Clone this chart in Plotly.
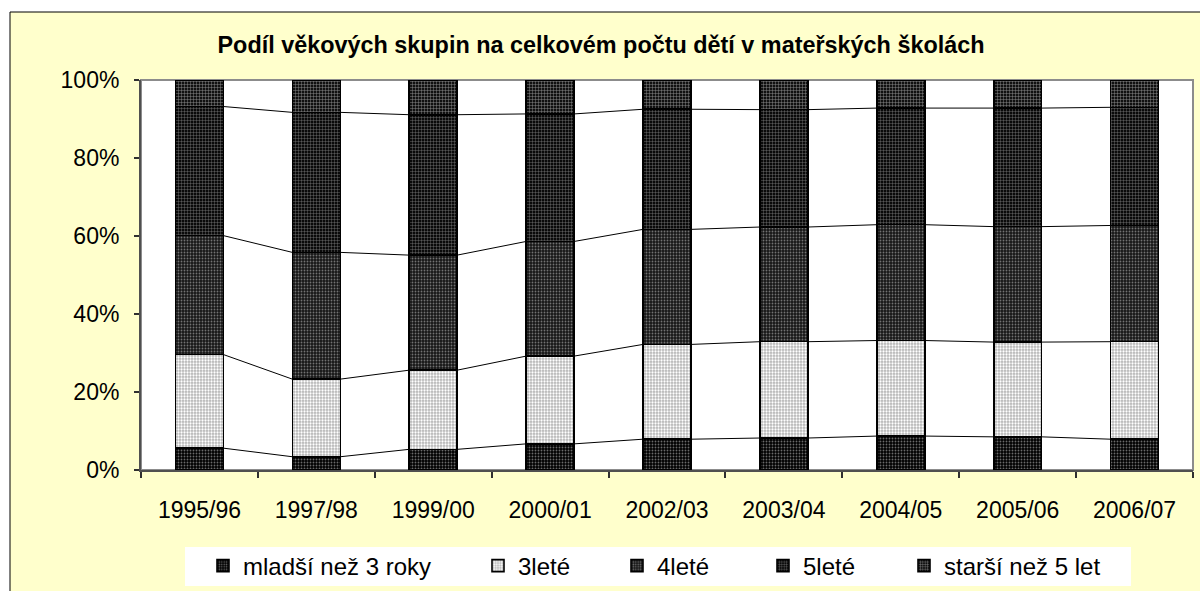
import plotly.graph_objects as go

# ---------------- data ----------------
categories = ["1995/96", "1997/98", "1999/00", "2000/01", "2002/03",
              "2003/04", "2004/05", "2005/06", "2006/07"]
series_names = ["mladší než 3 roky", "3leté", "4leté", "5leté", "starší než 5 let"]
mladsi_3 = [5.6, 3.4, 5.3, 6.7, 7.9, 8.2, 8.7, 8.5, 7.9]
tri_lete = [24.0, 19.9, 20.3, 22.5, 24.3, 24.7, 24.5, 24.3, 25.0]
ctyr_lete = [30.5, 32.5, 29.5, 29.4, 29.5, 29.4, 29.7, 29.6, 29.8]
pet_lete = [33.1, 35.9, 36.0, 32.7, 30.8, 30.1, 29.9, 30.4, 30.3]
starsi_5 = [6.8, 8.3, 8.9, 8.7, 7.5, 7.6, 7.2, 7.2, 7.0]
y_ticks = [0, 20, 40, 60, 80, 100]
y_tick_labels = ["0%", "20%", "40%", "60%", "80%", "100%"]
title_text = "Podíl věkových skupin na celkovém počtu dětí v mateřských školách"

series_values = [mladsi_3, tri_lete, ctyr_lete, pet_lete, starsi_5]

# ---------------- style ----------------
FONT = "Liberation Sans, Arial, sans-serif"
W, H = 1200, 591
L, R, T, B = 141, 7, 80, 121
PW, PH = W - L - R, H - T - B
BAR_W = 0.41

patterns = [
    dict(shape=".", bgcolor="#000000", fgcolor="#6a6a6a", size=3, solidity=0.3),
    dict(shape=".", bgcolor="#b4b4b4", fgcolor="#ffffff", size=3, solidity=0.45),
    dict(shape=".", bgcolor="#161616", fgcolor="#727272", size=3, solidity=0.3),
    dict(shape="+", bgcolor="#0a0a0a", fgcolor="#9a9a9a", size=3, solidity=0.2),
    dict(shape="+", bgcolor="#101010", fgcolor="#a0a0a0", size=3, solidity=0.25),
]

def px_x(px):
    return (px - L) / PW

def px_y(py):
    return (H - B - py) / PH

fig = go.Figure()
x_idx = list(range(len(categories)))

for k, (name, vals) in enumerate(zip(series_names, series_values)):
    fig.add_trace(go.Bar(
        x=x_idx, y=vals, name=name, width=BAR_W,
        marker=dict(color=patterns[k]["bgcolor"],
                    line=dict(color="#000000", width=1.6),
                    pattern=dict(fillmode="replace", **patterns[k])),
        legend="legend" if k == 0 else f"legend{k+1}",
        hoverinfo="skip",
    ))

# series lines joining the cumulative boundaries of neighbouring bars
cum = [0.0] * len(categories)
for k, vals in enumerate(series_values[:-1]):
    cum = [c + v for c, v in zip(cum, vals)]
    lx, ly = [], []
    for i in range(len(categories) - 1):
        lx += [x_idx[i] + BAR_W / 2, x_idx[i + 1] - BAR_W / 2, None]
        ly += [cum[i], cum[i + 1], None]
    fig.add_trace(go.Scatter(x=lx, y=ly, mode="lines",
                             line=dict(color="#000000", width=1),
                             showlegend=False, hoverinfo="skip"))

# backgrounds: yellow chart area with black border, white plot area, white legend box
shapes = [
    dict(type="rect", xref="paper", yref="paper", layer="below",
         x0=px_x(10), x1=px_x(1215), y0=px_y(610), y1=px_y(12),
         fillcolor="#FFFFCC", line=dict(color="#000000", width=1)),
    dict(type="rect", xref="paper", yref="paper", layer="below",
         x0=0, x1=1, y0=0, y1=1,
         fillcolor="#FFFFFF", line=dict(color="#8c8c8c", width=2)),
    dict(type="rect", xref="paper", yref="paper", layer="below",
         x0=px_x(185), x1=px_x(1131), y0=px_y(586), y1=px_y(547),
         fillcolor="#FFFFFF", line=dict(width=0)),
]

# legends (one per entry, so each sits where it does in the reference)
text_starts = [243, 518, 657, 803, 944]
legend_y = 1 - 566 / H
legends = {}
for k, xs in enumerate(text_starts):
    key = "legend" if k == 0 else f"legend{k+1}"
    legends[key] = dict(
        xref="container", yref="container",
        x=(xs - 40) / W, y=legend_y, xanchor="left", yanchor="middle",
        orientation="h", bgcolor="rgba(0,0,0,0)", borderwidth=0,
        font=dict(family=FONT, size=24, color="#000000"),
        itemclick=False, itemdoubleclick=False,
    )

fig.update_layout(
    width=W, height=H,
    margin=dict(l=L, r=R, t=T, b=B, pad=0),
    paper_bgcolor="#FFFFFF", plot_bgcolor="#FFFFFF",
    barmode="stack", showlegend=True,
    font=dict(family=FONT, color="#000000"),
    title=dict(text=title_text, x=601 / W, xanchor="center",
               y=1 - 45 / H, yanchor="middle", xref="container", yref="container",
               font=dict(family=FONT, size=23.4, color="#000000", weight="bold")),
    shapes=shapes,
    **legends,
)

fig.update_xaxes(
    range=[-0.5, len(categories) - 0.5],
    tickmode="array", tickvals=x_idx, ticktext=categories,
    ticks="", showgrid=False, zeroline=False,
    showline=True, linecolor="#505050", linewidth=2,
    tickfont=dict(family=FONT, size=23, color="#000000"),
    ticklabelstandoff=18,
    minor=dict(tickmode="array",
               tickvals=[i - 0.5 for i in range(len(categories) + 1)],
               ticks="outside", ticklen=6, tickwidth=1.5, tickcolor="#303030",
               showgrid=False),
)
fig.update_yaxes(
    range=[0, 100], tickmode="array", tickvals=y_ticks, ticktext=y_tick_labels,
    ticks="outside", ticklen=5, tickwidth=1.5, tickcolor="#303030",
    showgrid=False, zeroline=False,
    showline=True, linecolor="#505050", linewidth=2,
    tickfont=dict(family=FONT, size=23, color="#000000"),
    ticklabelstandoff=10,
)

fig.write_html("out.html", config={"displayModeBar": False},
               post_script="document.body.style.margin='0';")
